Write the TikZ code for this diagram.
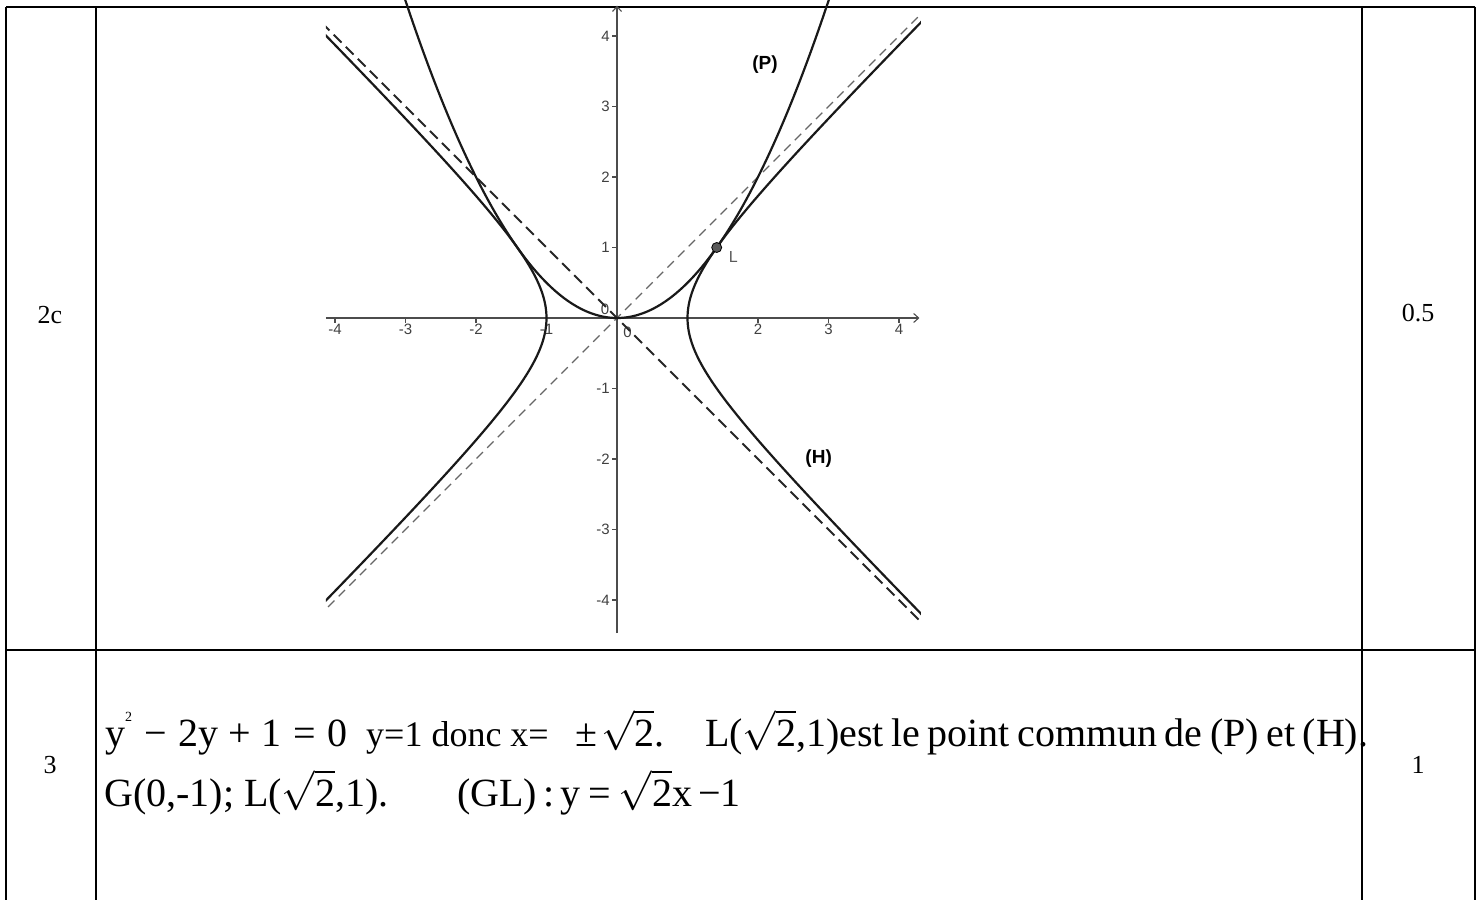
\documentclass[tikz,border=0pt]{standalone}
\usepackage{fontspec}
\usepackage{graphicx}
\setmainfont{Liberation Serif}
\newfontfamily\gsans{Liberation Sans}
\usetikzlibrary{arrows.meta}
\newcommand\rtwo{\scalebox{4.0}{\fontsize{10bp}{12bp}\selectfont$\sqrt{\mbox{2}}$}}
\newcommand\sqr{\raisebox{0.62em}{\fontsize{14bp}{14bp}\selectfont 2}}
\begin{document}
\begin{tikzpicture}[x=1bp,y=-1bp,
  rule/.style={line width=2bp,black},
  lbl/.style={font=\fontsize{26bp}{30bp}\selectfont, inner sep=0pt},
  txt/.style={font=\fontsize{40bp}{46bp}\selectfont, inner sep=0pt, anchor=base west},
  txtmid/.style={font=\fontsize{36bp}{42bp}\selectfont, inner sep=0pt, anchor=base west},
  axis/.style={draw=black!70, line width=1.1bp},
  ticklbl/.style={font=\gsans\fontsize{15bp}{17bp}\selectfont, text=black!75, inner sep=0pt},
  curve/.style={line width=2.2bp, black!90},
  asymA/.style={line width=1.8bp, black!85, dash pattern=on 11bp off 6bp},
  asymB/.style={line width=1.2bp, black!60, dash pattern=on 9bp off 6bp},
  ]
\useasboundingbox (0,0) rectangle (1482,900);
% table
\coordinate (TL) at (6,6.5);
\coordinate (TR) at (1475,6.5);
\coordinate (C1t) at (96,6.5);
\coordinate (C2t) at (1362,6.5);
\coordinate (BL) at (6,900);
\coordinate (BR) at (1475,900);
\coordinate (C1b) at (96,900);
\coordinate (C2b) at (1362,900);
\coordinate (SL) at (6,650);
\coordinate (SR) at (1475,650);
\draw[rule] (TL) -- (TR);
\draw[rule] (SL) -- (SR);
\draw[rule] (TL) -- (BL);
\draw[rule] (C1t) -- (C1b);
\draw[rule] (C2t) -- (C2b);
\draw[rule] (TR) -- (BR);
% row labels
\node[lbl] (r1a) at (50,315) {2c};
\node[lbl] (r1c) at (1418,313) {0.5};
\node[lbl] (r3a) at (50,765) {3};
\node[lbl] (r3c) at (1418,765) {1};
% graph
\begin{scope}[shift={(617,318)}, x=70.5bp, y=70.5bp]
\clip (-4.13,-4.47) rectangle (4.31,4.5);
\coordinate (xa0) at (-4.13,0);
\coordinate (xa1) at (4.29,0);
\coordinate (ya0) at (0,-4.47);
\coordinate (ya1) at (0,4.43);
\draw[axis, -{Straight Barb[length=5bp,width=9bp]}] (xa0) -- (xa1);
\draw[axis, -{Straight Barb[length=5bp,width=9bp]}] (ya0) -- (ya1);
\foreach \i in {-4,-3,-2,-1,1,2,3,4} {
  \draw[axis] (\i,0) -- (\i,-0.07);
  \draw[axis] (0,\i) -- (-0.07,\i);
}
\foreach \i/\t in {-4/-4,-3/-3,-2/-2,-1/-1,2/2,3/3,4/4} {
  \node[ticklbl, anchor=north] (xl\i) at (\i,-0.08) {\t};
}
\foreach \i/\t in {-4/-4,-3/-3,-2/-2,-1/-1,1/1,2/2,3/3,4/4} {
  \node[ticklbl, anchor=east] (yl\i) at (-0.1,\i) {\t};
}
\node[ticklbl] (z1) at (0.15,-0.2) {0};
\node[ticklbl] (z2) at (-0.17,0.12) {0};
% asymptotes
\coordinate (a1) at (-4.7,4.7);
\coordinate (a2) at (4.7,-4.7);
\coordinate (b1) at (-4.7,-4.7);
\coordinate (b2) at (4.7,4.7);
\draw[asymB] (b1) -- (b2);
\draw[asymA] (a1) -- (a2);
% curves
\draw[curve] plot[domain=-3.1:3.1, samples=121, smooth] (\x,{\x*\x/2});
\draw[curve] plot[domain=-2.3:2.3, samples=121, smooth] ({cosh(\x)},{sinh(\x)});
\draw[curve] plot[domain=-2.3:2.3, samples=121, smooth] ({-cosh(\x)},{sinh(\x)});
\node[circle, fill=black!65, draw=black, line width=0.8bp, inner sep=0pt, minimum size=10bp] (L) at ({sqrt(2)},1) {};
\node[font=\gsans\fontsize{16bp}{18bp}\selectfont, text=black!65, inner sep=0pt] (Llbl) at (1.65,0.86) {L};
\node[font=\gsans\bfseries\fontsize{19bp}{22bp}\selectfont, inner sep=0pt] (Plbl) at (2.1,3.59) {(P)};
\node[font=\gsans\bfseries\fontsize{19bp}{22bp}\selectfont, inner sep=0pt] (Hlbl) at (2.86,-2.0) {(H)};
\end{scope}
% row 3 text, line 1
\node[txt] (l1a) at (105,746) {y\sqr\hspace{.3em}−\hspace{.3em}2y\hspace{.25em}+\hspace{.25em}1\hspace{.3em}=\hspace{.3em}0};
\node[txtmid] (l1b) at (366,746) {y=1 donc x=};
\node[txt] (l1c) at (575,746) {±\hspace{.1em}\rtwo.};
\node[txt] (l1d) at (705,746) {\makebox[653bp][s]{L(\rtwo,1)est le point commun de (P) et (H)}\rlap{.}};
% row 3 text, line 2
\node[txt] (l2a) at (104,806) {G(0,-1); L(\rtwo,1).};
\node[txt] (l2b) at (457,806) {(GL)\hspace{.15em}:\hspace{.15em}y\hspace{.2em}=\hspace{.2em}\rtwo x\hspace{.15em}−1};
\end{tikzpicture}
\end{document}
